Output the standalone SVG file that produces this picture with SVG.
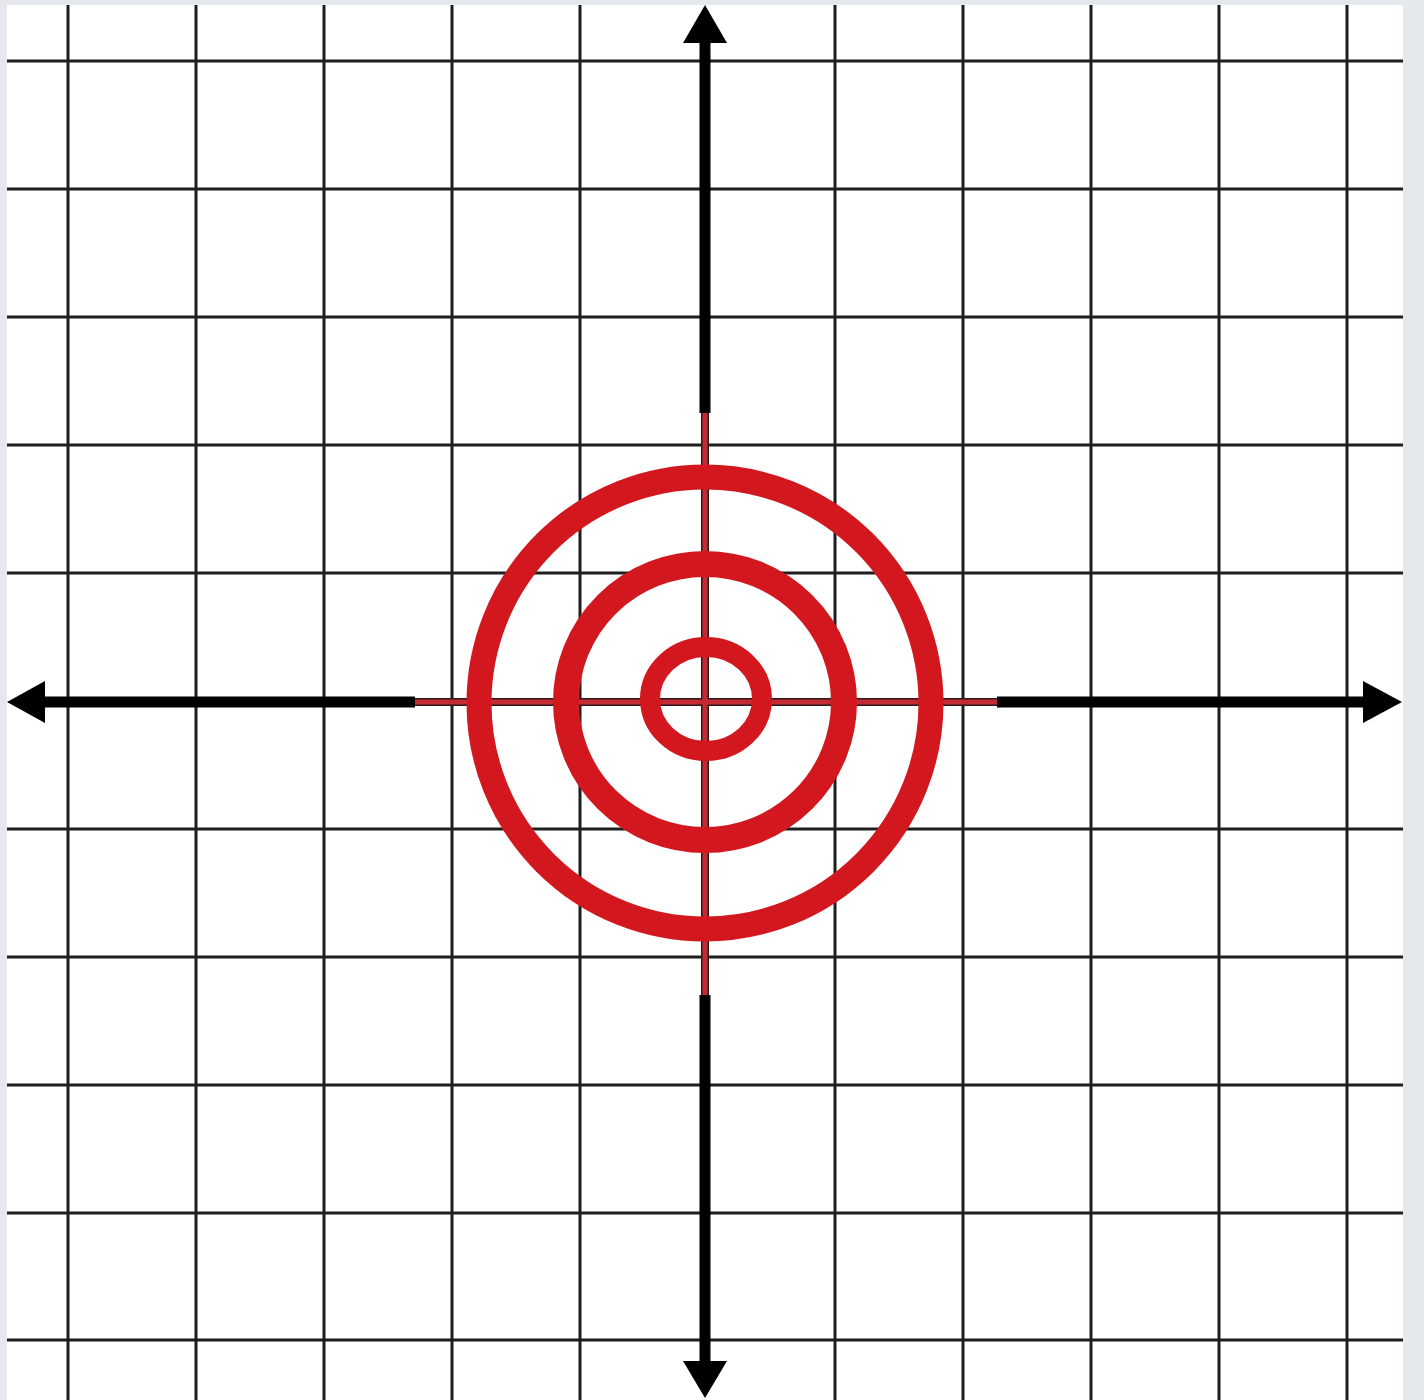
<svg xmlns="http://www.w3.org/2000/svg" width="1424" height="1400" viewBox="0 0 1424 1400">
  <style>
    .grid line { stroke: #1e1e1e; stroke-width: 3; }
    .axis { stroke: #000; stroke-width: 11; }
    .ring { fill: none; stroke: #d2181e; }
  </style>
  <rect x="0" y="0" width="1424" height="1400" fill="#e5e8ec"/>
  <rect x="7" y="5" width="1396" height="1395" fill="#ffffff"/>
  <g id="grid" class="grid">
    <line x1="68" y1="5" x2="68" y2="1400"/>
    <line x1="196" y1="5" x2="196" y2="1400"/>
    <line x1="324" y1="5" x2="324" y2="1400"/>
    <line x1="452" y1="5" x2="452" y2="1400"/>
    <line x1="580" y1="5" x2="580" y2="1400"/>
    <line x1="835" y1="5" x2="835" y2="1400"/>
    <line x1="963" y1="5" x2="963" y2="1400"/>
    <line x1="1091" y1="5" x2="1091" y2="1400"/>
    <line x1="1219" y1="5" x2="1219" y2="1400"/>
    <line x1="1347" y1="5" x2="1347" y2="1400"/>
    <line x1="7" y1="61" x2="1403" y2="61"/>
    <line x1="7" y1="189" x2="1403" y2="189"/>
    <line x1="7" y1="317" x2="1403" y2="317"/>
    <line x1="7" y1="445" x2="1403" y2="445"/>
    <line x1="7" y1="573" x2="1403" y2="573"/>
    <line x1="7" y1="829" x2="1403" y2="829"/>
    <line x1="7" y1="957" x2="1403" y2="957"/>
    <line x1="7" y1="1085" x2="1403" y2="1085"/>
    <line x1="7" y1="1213" x2="1403" y2="1213"/>
    <line x1="7" y1="1340" x2="1403" y2="1340"/>
  </g>
  <g id="axes">
    <line class="axis" x1="40" y1="702" x2="415" y2="702"/>
    <line class="axis" x1="997" y1="702" x2="1370" y2="702"/>
    <line class="axis" x1="705" y1="38" x2="705" y2="413"/>
    <line class="axis" x1="705" y1="995" x2="705" y2="1366"/>
    <polygon points="7,702 45,681 45,723" fill="#000"/>
    <polygon points="1402,702 1363,681 1363,723" fill="#000"/>
    <polygon points="705,5 683,43 727,43" fill="#000"/>
    <polygon points="705,1398 683,1361 727,1361" fill="#000"/>
  </g>
  <g id="target">
    <line x1="415" y1="702" x2="997" y2="702" stroke="#2a1a1a" stroke-width="8"/>
    <line x1="705" y1="413" x2="705" y2="995" stroke="#2a1a1a" stroke-width="8"/>
    <line x1="415" y1="702" x2="997" y2="702" stroke="#c42a32" stroke-width="5"/>
    <line x1="705" y1="413" x2="705" y2="995" stroke="#c42a32" stroke-width="5"/>
    <ellipse class="ring" cx="705" cy="703" rx="226" ry="226" stroke-width="25"/>
    <ellipse class="ring" cx="705" cy="702" rx="139" ry="138" stroke-width="26"/>
    <ellipse class="ring" cx="706" cy="699" rx="56" ry="52" stroke-width="20"/>
  </g>
</svg>
